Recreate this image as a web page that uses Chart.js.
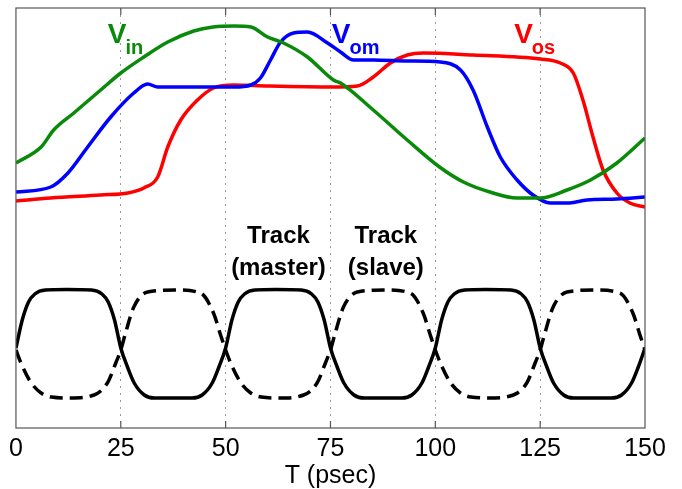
<!DOCTYPE html>
<html>
<head>
<meta charset="utf-8">
<script src="https://cdn.jsdelivr.net/npm/chart.js@4/dist/chart.umd.min.js"></script>
<style>
  body { margin: 0; background: #fff; }
  #wrap { width: 682px; height: 489px; position: relative; }
</style>
</head>
<body>
<div id="wrap"><canvas id="chart"></canvas></div>
<script>
// time axis (psec) and tick labels
const xTicks = [0, 25, 50, 75, 100, 125, 150];

// V_in (green)
const vinT = [0, 6, 9, 13.8, 20.2, 25, 30.5, 36.2, 42.4, 47, 52, 56, 60, 63.8, 69.5, 75.7, 77.4, 85.2, 93.3, 101, 106.7, 113, 119.5, 125, 131.4, 137, 143.3, 150];
const vinV = [26.5, 28.1, 29.8, 31.5, 33.8, 35.5, 37.1, 38.6, 39.7, 40.1, 40.2, 40.1, 39.1, 38.5, 37.1, 34.8, 34.5, 31.8, 28.8, 26.1, 24.6, 23.6, 23.0, 23.0, 23.8, 24.8, 26.5, 29.0];

// V_om (blue)
const vomT = [0, 8.3, 12.4, 17.1, 22.6, 28.1, 31.4, 33.8, 40, 52, 56, 58.3, 60.7, 63.1, 66.2, 69.5, 74.3, 77.4, 80.5, 85.2, 93.3, 101.2, 106, 109, 112.4, 115.5, 119.5, 123.3, 127.4, 131.4, 136.2, 143.3, 150];
const vomV = [23.6, 24.1, 25.5, 28.1, 31.1, 33.5, 34.4, 34.1, 34.1, 34.1, 34.3, 35.0, 36.8, 38.6, 39.5, 39.6, 38.5, 37.6, 36.8, 36.8, 36.7, 36.6, 35.8, 33.8, 30.1, 27.1, 24.8, 23.3, 22.5, 22.5, 22.8, 22.9, 23.1];

// V_os (red)
const vosT = [0, 8.3, 20.2, 26.7, 30.5, 33.8, 36.2, 39.3, 43.3, 47.1, 52, 60, 75.7, 81.4, 85.2, 89.3, 93.3, 97.1, 109, 125, 129.8, 132.9, 135.2, 137.6, 140, 143.3, 146.4, 150];
const vosV = [22.7, 23.0, 23.3, 23.5, 24.0, 25.1, 28.1, 30.8, 32.8, 34.0, 34.3, 34.2, 34.1, 34.2, 35.1, 36.5, 37.3, 37.5, 37.3, 36.9, 36.5, 35.5, 32.8, 29.1, 25.8, 23.5, 22.5, 22.1];

// master clock (solid black)
const clkT = [0, 1.5, 3, 4.5, 7, 12, 18, 20.5, 22, 23.5, 25, 26.6, 28.2, 30.6, 33, 42, 44.4, 46.8, 48.4,
  50, 51.5, 53, 54.5, 57, 62, 68, 70.5, 72, 73.5, 75, 76.6, 78.2, 80.6, 83, 92, 94.4, 96.8, 98.4,
  100, 101.5, 103, 104.5, 107, 112, 118, 120.5, 122, 123.5, 125, 126.6, 128.2, 130.6, 133, 142, 144.4, 146.8, 148.4, 150];
const clkV = [8.0, 10.8, 12.6, 13.4, 13.8, 13.85, 13.8, 13.4, 12.6, 10.8, 8.0, 6.1, 4.5, 3.3, 3.0, 3.0, 3.3, 4.5, 6.1,
  8.0, 10.8, 12.6, 13.4, 13.8, 13.85, 13.8, 13.4, 12.6, 10.8, 8.0, 6.1, 4.5, 3.3, 3.0, 3.0, 3.3, 4.5, 6.1,
  8.0, 10.8, 12.6, 13.4, 13.8, 13.85, 13.8, 13.4, 12.6, 10.8, 8.0, 6.1, 4.5, 3.3, 3.0, 3.0, 3.3, 4.5, 6.1, 8.0];

// slave clock (dashed black)
const clkbT = [0, 1.3, 3.5, 6, 8.5, 13, 18.6, 21.8, 23.8, 25, 26, 28.1, 31.4, 38, 44, 47.1, 48.8,
  50, 51.3, 53.5, 56, 58.5, 63, 68.6, 71.8, 73.8, 75, 76, 78.1, 81.4, 88, 94, 97.1, 98.8,
  100, 101.3, 103.5, 106, 108.5, 113, 118.6, 121.8, 123.8, 125, 126, 128.1, 131.4, 138, 144, 147.1, 148.8, 150];
const clkbV = [7.8, 6.4, 4.6, 3.5, 3.1, 3.0, 3.3, 4.5, 6.5, 7.8, 9.3, 12.1, 13.6, 13.8, 13.5, 11.5, 9.3,
  7.8, 6.4, 4.6, 3.5, 3.1, 3.0, 3.3, 4.5, 6.5, 7.8, 9.3, 12.1, 13.6, 13.8, 13.5, 11.5, 9.3,
  7.8, 6.4, 4.6, 3.5, 3.1, 3.0, 3.3, 4.5, 6.5, 7.8, 9.3, 12.1, 13.6, 13.8, 13.5, 11.5, 9.3, 7.8];

const GREEN = '#0a8a0a', BLUE = '#0000ff', RED = '#ff0000';
const FONT = '"Liberation Sans", Arial, sans-serif';

function pts(ts, vs) {
  return ts.map((t, i) => ({ x: t, y: vs[i] }));
}

function line(label, ts, vs, color, dash) {
  return {
    label: label,
    data: pts(ts, vs),
    borderColor: color,
    borderWidth: 3.5,
    borderDash: dash || [],
    pointRadius: 0,
    fill: false,
    cubicInterpolationMode: 'monotone'
  };
}

// frame, inward ticks and the text labels
const decor = {
  id: 'decor',
  afterDatasetsDraw(chart) {
    const ctx = chart.ctx;
    const a = chart.chartArea;
    const xs = chart.scales.x, ys = chart.scales.y;
    ctx.save();
    ctx.strokeStyle = '#555';
    ctx.lineWidth = 1.2;
    ctx.strokeRect(a.left, a.top, a.right - a.left, a.bottom - a.top);
    xTicks.slice(1, -1).forEach(t => {
      let px = xs.getPixelForValue(t);
      ctx.beginPath();
      ctx.moveTo(px, a.top); ctx.lineTo(px, a.top + 7);
      ctx.moveTo(px, a.bottom); ctx.lineTo(px, a.bottom - 7);
      ctx.stroke();
    });

    function vlabel(sub, t, v, color) {
      let x = xs.getPixelForValue(t), y = ys.getPixelForValue(v);
      ctx.fillStyle = color;
      ctx.textAlign = 'left';
      ctx.textBaseline = 'alphabetic';
      ctx.font = 'bold 28px ' + FONT;
      ctx.fillText('V', x, y);
      let w = ctx.measureText('V').width;
      ctx.font = 'bold 20px ' + FONT;
      ctx.fillText(sub, x + w - 1, y + 11);
    }
    vlabel('in', 21.9, 38.5, GREEN);
    vlabel('om', 75.3, 38.5, BLUE);
    vlabel('os', 118.8, 38.5, RED);

    ctx.fillStyle = '#000';
    ctx.textAlign = 'center';
    ctx.font = 'bold 24px ' + FONT;
    ctx.fillText('Track', xs.getPixelForValue(62.6), ys.getPixelForValue(18.5));
    ctx.fillText('(master)', xs.getPixelForValue(62.6), ys.getPixelForValue(15.3));
    ctx.fillText('Track', xs.getPixelForValue(88.2), ys.getPixelForValue(18.5));
    ctx.fillText('(slave)', xs.getPixelForValue(88.2), ys.getPixelForValue(15.3));
    ctx.restore();
  }
};

new Chart(document.getElementById('chart'), {
  type: 'line',
  data: {
    datasets: [
      line('Vin', vinT, vinV, GREEN),
      line('Vom', vomT, vomV, BLUE),
      line('Vos', vosT, vosV, RED),
      line('master', clkT, clkV, '#000'),
      line('slave', clkbT, clkbV, '#000', [13, 7])
    ]
  },
  options: {
    responsive: true,
    maintainAspectRatio: false,
    animation: false,
    layout: { padding: { left: 15, right: 37, top: 8, bottom: 0 } },
    plugins: { legend: { display: false }, tooltip: { enabled: false } },
    scales: {
      x: {
        type: 'linear',
        min: 0,
        max: 150,
        afterBuildTicks: axis => { axis.ticks = xTicks.map(v => ({ value: v })); },
        afterFit: axis => { axis.height = 61; },
        ticks: {
          padding: 9,
          color: '#000',
          font: { family: FONT, size: 25, lineHeight: 1 },
          maxRotation: 0
        },
        grid: {
          drawTicks: false,
          lineWidth: 1,
          color: c => (c.tick && (c.tick.value === 0 || c.tick.value === 150)) ? 'rgba(0,0,0,0)' : '#999'
        },
        border: { display: false, dash: [2, 5] },
        title: {
          display: true,
          text: 'T (psec)',
          color: '#000',
          padding: { top: 0, bottom: 0 },
          font: { family: FONT, size: 25, lineHeight: 1 }
        }
      },
      y: {
        type: 'linear',
        display: false,
        min: 0,
        max: 42
      }
    }
  },
  plugins: [decor]
});
</script>
</body>
</html>
